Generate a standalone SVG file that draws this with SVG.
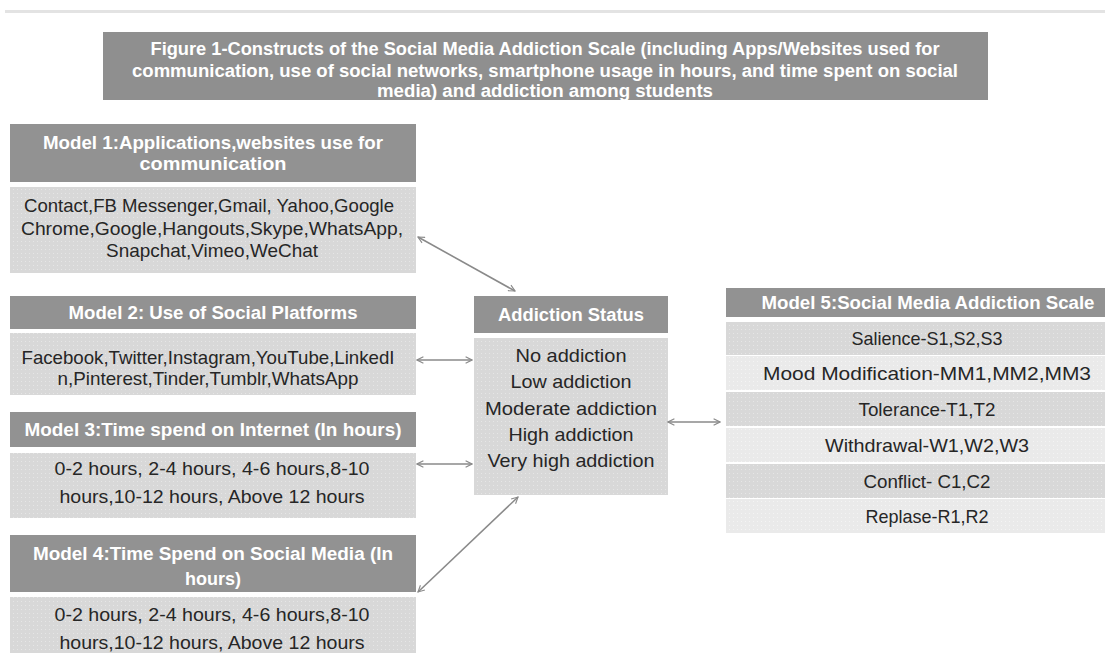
<svg xmlns="http://www.w3.org/2000/svg" width="1105" height="653" viewBox="0 0 1105 653">
<defs>
<style>
.hd{fill:#929292}
.bd{fill:url(#dotA)}
.r1{fill:url(#dotA)}
.r2{fill:url(#dotB)}
.ht{font-family:"Liberation Sans",Arial,sans-serif;font-weight:bold;font-size:18px;fill:#ffffff;text-anchor:middle}
.tt{font-family:"Liberation Sans",Arial,sans-serif;font-weight:bold;font-size:17.5px;fill:#ffffff;text-anchor:middle}
.bt{font-family:"Liberation Sans",Arial,sans-serif;font-size:18.5px;fill:#262626;text-anchor:middle}
.cn{stroke:#8a8a8a;stroke-width:1.6;fill:none;marker-start:url(#ah);marker-end:url(#ah)}
</style>
<pattern id="dotA" width="4" height="4" patternUnits="userSpaceOnUse">
<rect width="4" height="4" fill="#d8d8d8"/>
<rect x="1" y="1" width="1" height="1" fill="#e6e6e6"/>
</pattern>
<pattern id="dotB" width="4" height="4" patternUnits="userSpaceOnUse">
<rect width="4" height="4" fill="#eaeaea"/>
<rect x="1" y="1" width="1" height="1" fill="#f4f4f4"/>
</pattern>
<marker id="ah" viewBox="0 0 10 10" refX="9" refY="5" markerWidth="8" markerHeight="8" markerUnits="userSpaceOnUse" orient="auto-start-reverse">
<path d="M1,1 L9,5 L1,9" fill="none" stroke="#8a8a8a" stroke-width="1.4"/>
</marker>
</defs>
<rect x="0" y="0" width="1105" height="653" fill="#ffffff"/>
<rect x="5" y="10" width="1100" height="3" fill="#e3e3e3"/>
<g id="title">
<rect x="103" y="32" width="885" height="68" fill="#8f8f8f"/>
<text class="tt" x="545" y="55" textLength="789" lengthAdjust="spacingAndGlyphs">Figure 1-Constructs of the Social Media Addiction Scale (including Apps/Websites used for</text>
<text class="tt" x="545" y="77" textLength="826" lengthAdjust="spacingAndGlyphs">communication, use of social networks, smartphone usage in hours, and time spent on social</text>
<text class="tt" x="545" y="97" textLength="336" lengthAdjust="spacingAndGlyphs">media) and addiction among students</text>
</g>
<g id="model1">
<rect class="hd" x="10" y="124" width="406" height="58"/>
<text class="ht" x="213" y="149" textLength="340" lengthAdjust="spacingAndGlyphs">Model 1:Applications,websites use for</text>
<text class="ht" x="213" y="170" textLength="147" lengthAdjust="spacingAndGlyphs">communication</text>
<rect class="bd" x="10" y="187" width="406" height="86"/>
<text class="bt" x="209" y="212" textLength="370" lengthAdjust="spacingAndGlyphs">Contact,FB Messenger,Gmail, Yahoo,Google</text>
<text class="bt" x="212" y="235" textLength="382" lengthAdjust="spacingAndGlyphs">Chrome,Google,Hangouts,Skype,WhatsApp,</text>
<text class="bt" x="212" y="257" textLength="212" lengthAdjust="spacingAndGlyphs">Snapchat,Vimeo,WeChat</text>
</g>
<g id="model2">
<rect class="hd" x="10" y="296" width="406" height="33"/>
<text class="ht" x="213" y="319" textLength="289" lengthAdjust="spacingAndGlyphs">Model 2: Use of Social Platforms</text>
<rect class="bd" x="10" y="333" width="406" height="62"/>
<text class="bt" x="208" y="364" textLength="373" lengthAdjust="spacingAndGlyphs">Facebook,Twitter,Instagram,YouTube,LinkedI</text>
<text class="bt" x="208" y="385" textLength="301" lengthAdjust="spacingAndGlyphs">n,Pinterest,Tinder,Tumblr,WhatsApp</text>
</g>
<g id="model3">
<rect class="hd" x="10" y="412" width="406" height="35"/>
<text class="ht" x="213" y="436" textLength="377" lengthAdjust="spacingAndGlyphs">Model 3:Time spend on Internet (In hours)</text>
<rect class="bd" x="10" y="453" width="406" height="65"/>
<text class="bt" x="212" y="475" textLength="315" lengthAdjust="spacingAndGlyphs">0-2 hours, 2-4 hours, 4-6 hours,8-10</text>
<text class="bt" x="212" y="503" textLength="305" lengthAdjust="spacingAndGlyphs">hours,10-12 hours, Above 12 hours</text>
</g>
<g id="model4">
<rect class="hd" x="10" y="535" width="406" height="57"/>
<text class="ht" x="213" y="560" textLength="360" lengthAdjust="spacingAndGlyphs">Model 4:Time Spend on Social Media (In</text>
<text class="ht" x="213" y="585" textLength="56" lengthAdjust="spacingAndGlyphs">hours)</text>
<rect class="bd" x="10" y="597" width="406" height="56"/>
<text class="bt" x="212" y="621" textLength="315" lengthAdjust="spacingAndGlyphs">0-2 hours, 2-4 hours, 4-6 hours,8-10</text>
<text class="bt" x="212" y="649" textLength="305" lengthAdjust="spacingAndGlyphs">hours,10-12 hours, Above 12 hours</text>
</g>
<g id="addiction">
<rect class="hd" x="474" y="296" width="194" height="37"/>
<text class="ht" x="571" y="321" textLength="146" lengthAdjust="spacingAndGlyphs">Addiction Status</text>
<rect class="bd" x="474" y="338" width="194" height="157"/>
<text class="bt" x="571" y="362" textLength="111" lengthAdjust="spacingAndGlyphs">No addiction</text>
<text class="bt" x="571" y="388" textLength="121" lengthAdjust="spacingAndGlyphs">Low addiction</text>
<text class="bt" x="571" y="415" textLength="172" lengthAdjust="spacingAndGlyphs">Moderate addiction</text>
<text class="bt" x="571" y="441" textLength="125" lengthAdjust="spacingAndGlyphs">High addiction</text>
<text class="bt" x="571" y="467" textLength="167" lengthAdjust="spacingAndGlyphs">Very high addiction</text>
</g>
<g id="model5">
<rect class="hd" x="726" y="288" width="379" height="29"/>
<text class="ht" x="928" y="309" textLength="333" lengthAdjust="spacingAndGlyphs">Model 5:Social Media Addiction Scale</text>
<rect class="r1" x="726" y="322" width="379" height="33"/>
<text class="bt" x="927" y="345" textLength="151" lengthAdjust="spacingAndGlyphs">Salience-S1,S2,S3</text>
<rect class="r2" x="726" y="356" width="379" height="34"/>
<text class="bt" x="927" y="380" textLength="328" lengthAdjust="spacingAndGlyphs">Mood Modification-MM1,MM2,MM3</text>
<rect class="r1" x="726" y="392" width="379" height="34"/>
<text class="bt" x="927" y="416" textLength="137" lengthAdjust="spacingAndGlyphs">Tolerance-T1,T2</text>
<rect class="r2" x="726" y="428" width="379" height="34"/>
<text class="bt" x="927" y="452" textLength="204" lengthAdjust="spacingAndGlyphs">Withdrawal-W1,W2,W3</text>
<rect class="r1" x="726" y="464" width="379" height="34"/>
<text class="bt" x="927" y="488" textLength="127" lengthAdjust="spacingAndGlyphs">Conflict- C1,C2</text>
<rect class="r2" x="726" y="499" width="379" height="34"/>
<text class="bt" x="927" y="523" textLength="123" lengthAdjust="spacingAndGlyphs">Replase-R1,R2</text>
</g>
<g id="connectors">
<line class="cn" x1="418" y1="237" x2="515" y2="291"/>
<line class="cn" x1="417" y1="360" x2="472" y2="360"/>
<line class="cn" x1="417" y1="464" x2="472" y2="464"/>
<line class="cn" x1="418" y1="592" x2="518" y2="497"/>
<line class="cn" x1="668" y1="422" x2="720" y2="422"/>
</g>
</svg>
